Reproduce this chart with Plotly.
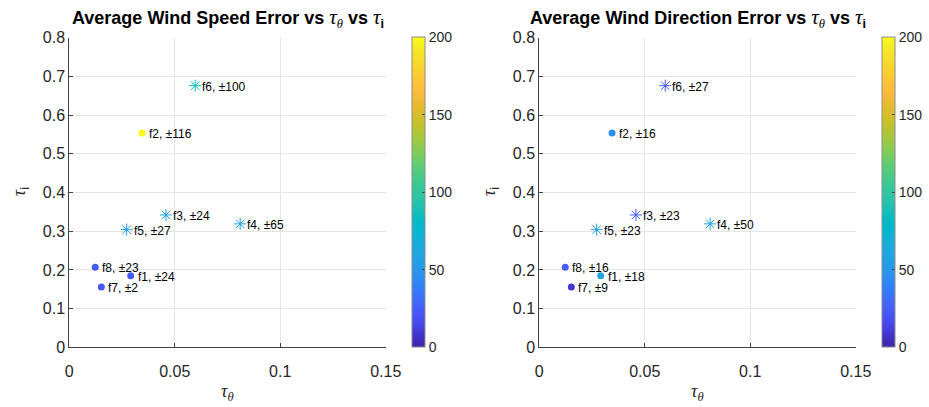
import plotly.graph_objects as go

# ---------------- data ----------------
names = ["f1", "f2", "f3", "f4", "f5", "f6", "f7", "f8"]
tau_theta = [0.0291, 0.0345, 0.0458, 0.0810, 0.0272, 0.0597, 0.0152, 0.0123]
tau_i = [0.185, 0.554, 0.342, 0.319, 0.304, 0.676, 0.156, 0.207]
marker_kind = ["o", "o", "*", "*", "*", "*", "o", "o"]

speed_err_mean = [24, 200, 55, 57, 55, 85, 22, 24]
speed_err_std = [24, 116, 24, 65, 27, 100, 2, 23]

dir_err_mean = [58, 46, 24, 55, 55, 24, 10, 24]
dir_err_std = [18, 16, 23, 50, 23, 27, 9, 16]

x_ticks = [0, 0.05, 0.1, 0.15]
x_tick_text = ["0", "0.05", "0.1", "0.15"]
y_ticks = [0, 0.1, 0.2, 0.3, 0.4, 0.5, 0.6, 0.7, 0.8]
y_tick_text = ["0", "0.1", "0.2", "0.3", "0.4", "0.5", "0.6", "0.7", "0.8"]
cbar_ticks = [0, 50, 100, 150, 200]

titles = ["Average Wind Speed Error vs ", "Average Wind Direction Error vs "]

# parula colormap (MATLAB R2017a)
parula_rgb = [
    (0.2422, 0.1504, 0.6603), (0.2647, 0.1978, 0.7952), (0.2803, 0.2782, 0.9221),
    (0.2795, 0.3447, 0.9717), (0.2602, 0.4123, 0.9952), (0.1963, 0.4847, 0.9892),
    (0.1764, 0.5499, 0.9520), (0.1460, 0.6091, 0.9079), (0.1248, 0.6459, 0.8883),
    (0.0952, 0.6798, 0.8598), (0.0297, 0.7082, 0.8163), (0.0067, 0.7312, 0.7660),
    (0.0964, 0.7500, 0.7120), (0.1717, 0.7670, 0.6554), (0.2161, 0.7843, 0.5923),
    (0.2906, 0.7973, 0.5188), (0.3909, 0.8029, 0.4354), (0.5044, 0.7993, 0.3480),
    (0.6174, 0.7876, 0.2612), (0.7242, 0.7698, 0.1910), (0.8203, 0.7498, 0.1535),
    (0.9035, 0.7330, 0.1774), (0.9728, 0.7298, 0.2394), (0.9970, 0.7659, 0.2199),
    (0.9892, 0.8136, 0.1885), (0.9676, 0.8639, 0.1643), (0.9597, 0.9135, 0.1423),
    (0.9769, 0.9839, 0.0805),
]
parula = [[i / (len(parula_rgb) - 1),
           "rgb(%d,%d,%d)" % tuple(round(c * 255) for c in rgb)]
          for i, rgb in enumerate(parula_rgb)]

# ---------------- layout geometry ----------------
W, H = 929, 407
ML, MR, MT, MB = 60, 25, 30, 40
PW, PH = W - ML - MR, H - MT - MB

def px(xp):  # window pixel -> paper x
    return (xp - ML) / PW

def py(yp):  # window pixel -> paper y
    return (H - MB - yp) / PH

FONT = "Liberation Sans, Arial, sans-serif"
SERIF = "Liberation Serif"
TXT = "#262626"

x_doms = [(px(69.3), px(385.7)), (px(539.3), px(855.7))]
y_dom = (py(347.3), py(37.7))
cbar_x = [px(412.3), px(882.3)]

TAU = '<i style="font-family:%s">τ</i>' % SERIF
TAU_T = '<i style="font-family:%s;font-size:21px">τ</i>' % SERIF
THETA_SUB = '<sub><i style="font-family:%s">θ</i></sub>' % SERIF
THETA_SUB_T = '<sub style="font-size:14px"><i style="font-family:%s">θ</i></sub>' % SERIF

fig = go.Figure()
annotations = []
for k, (means, stds) in enumerate([(speed_err_mean, speed_err_std),
                                   (dir_err_mean, dir_err_std)]):
    xa = "x" if k == 0 else "x2"
    ya = "y" if k == 0 else "y2"
    ca = "coloraxis" if k == 0 else "coloraxis2"
    for kind, sym, size, lw in [("o", "circle", 7, 0), ("*", "asterisk-open", 10, 1)]:
        idx = [i for i, m in enumerate(marker_kind) if m == kind]
        fig.add_trace(go.Scatter(
            x=[tau_theta[i] for i in idx], y=[tau_i[i] for i in idx],
            mode="markers", xaxis=xa, yaxis=ya, showlegend=False,
            marker=dict(symbol=sym, size=size, color=[means[i] for i in idx],
                        coloraxis=ca, line=dict(width=lw)),
        ))
    for i, nm in enumerate(names):
        annotations.append(dict(
            x=tau_theta[i], y=tau_i[i], xref=xa, yref=ya,
            text="%s, ±%d" % (nm, stds[i]), showarrow=False,
            xanchor="left", yanchor="middle", xshift=5, yshift=-1,
            font=dict(family=FONT, size=12, color="#000000"),
        ))
    cx = (x_doms[k][0] + x_doms[k][1]) / 2
    # title
    annotations.append(dict(
        x=cx, y=py(18), xref="paper", yref="paper", showarrow=False,
        xanchor="center", yanchor="middle",
        text="<b>" + titles[k] + "</b>" + TAU_T + THETA_SUB_T
             + "<b> vs </b>" + TAU_T + '<sub style="font-size:14px"><b>i</b></sub>',
        font=dict(family=FONT, size=18, color="#000000"),
    ))
    # x label
    annotations.append(dict(
        x=cx, y=py(392), xref="paper", yref="paper", showarrow=False,
        xanchor="center", yanchor="middle",
        text=TAU + THETA_SUB, font=dict(family=FONT, size=18, color=TXT),
    ))
    # y label
    annotations.append(dict(
        x=px((69.3 if k == 0 else 539.3) - 48), y=py(192), xref="paper", yref="paper",
        showarrow=False, xanchor="center", yanchor="middle", textangle=-90,
        text=TAU + "<sub>i</sub>", font=dict(family=FONT, size=18, color=TXT),
    ))

def xaxis(k):
    return dict(domain=list(x_doms[k]), range=[0, 0.15], tickvals=x_ticks,
                ticktext=x_tick_text, showgrid=True, gridcolor="#e6e6e6",
                zeroline=False, showline=True, linecolor="#404040", linewidth=1,
                ticks="inside", ticklen=4, tickcolor="#404040",
                tickfont=dict(family=FONT, size=16, color=TXT),
                ticklabelstandoff=9, automargin=False,
                anchor="y" if k == 0 else "y2", fixedrange=True)

def yaxis(k):
    return dict(domain=list(y_dom), range=[0, 0.8], tickvals=y_ticks,
                ticktext=y_tick_text, showgrid=True, gridcolor="#e6e6e6",
                zeroline=False, showline=True, linecolor="#404040", linewidth=1,
                ticks="inside", ticklen=4, tickcolor="#404040",
                tickfont=dict(family=FONT, size=16, color=TXT),
                automargin=False,
                anchor="x" if k == 0 else "x2", fixedrange=True)

def cax(k):
    return dict(colorscale=parula, cmin=0, cmax=200,
                colorbar=dict(x=cbar_x[k], xanchor="left", xref="paper",
                              y=y_dom[0], yanchor="bottom", yref="paper",
                              len=y_dom[1] - y_dom[0], lenmode="fraction",
                              thickness=13.4, thicknessmode="pixels",
                              outlinecolor="#8c8c8c", outlinewidth=1,
                              tickvals=cbar_ticks, ticks="inside", ticklen=3,
                              tickcolor="#404040",
                              tickfont=dict(family=FONT, size=14, color=TXT),
                              xpad=0, ypad=0))

fig.update_layout(
    width=W, height=H, margin=dict(l=ML, r=MR, t=MT, b=MB, autoexpand=False),
    paper_bgcolor="white", plot_bgcolor="white",
    xaxis=xaxis(0), yaxis=yaxis(0), xaxis2=xaxis(1), yaxis2=yaxis(1),
    coloraxis=cax(0), coloraxis2=cax(1),
    annotations=annotations,
    font=dict(family=FONT, color=TXT),
)

# remove the browser's default 8px body margin so the figure sits at (0, 0)
fig.write_html("out.html", config={"displayModeBar": False},
               post_script="document.body.style.margin='0';document.body.style.overflow='hidden';")
